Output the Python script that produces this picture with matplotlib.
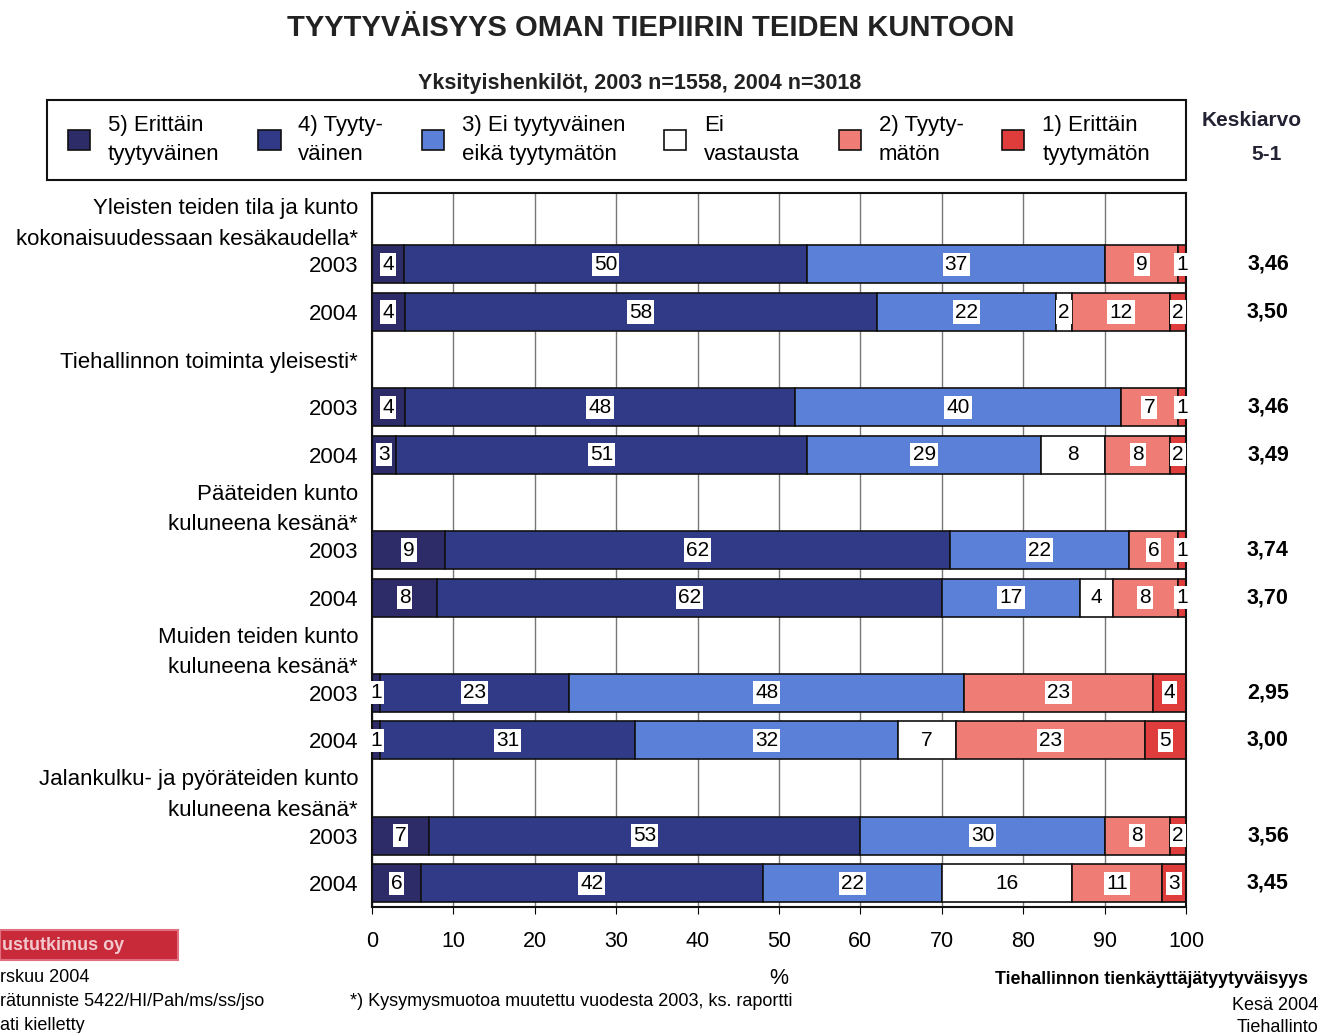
import numpy as np
import matplotlib.pyplot as plt
from matplotlib.patches import Patch, Rectangle
from matplotlib.transforms import blended_transform_factory

plt.rcParams['font.family'] = ['Liberation Sans', 'DejaVu Sans']

# Vastausluokat ja värit
categories = ["5) Erittäin\ntyytyväinen", "4) Tyyty-\nväinen", "3) Ei tyytyväinen\neikä tyytymätön",
              "Ei\nvastausta", "2) Tyyty-\nmätön", "1) Erittäin\ntyytymätön"]
colors = ["#2d2b68", "#303a86", "#5b80d8", "#ffffff", "#ef7d75", "#de3d3c"]

groups = ["Yleisten teiden tila ja kunto\nkokonaisuudessaan kesäkaudella*",
          "Tiehallinnon toiminta yleisesti*",
          "Pääteiden kunto\nkuluneena kesänä*",
          "Muiden teiden kunto\nkuluneena kesänä*",
          "Jalankulku- ja pyöräteiden kunto\nkuluneena kesänä*"]
years = ["2003", "2004"]

# Osuudet (%) per rivi: 5, 4, 3, ei vastausta, 2, 1
shares = np.array([
    [4, 50, 37, 0, 9, 1],
    [4, 58, 22, 2, 12, 2],
    [4, 48, 40, 0, 7, 1],
    [3, 51, 29, 8, 8, 2],
    [9, 62, 22, 0, 6, 1],
    [8, 62, 17, 4, 8, 1],
    [1, 23, 48, 0, 23, 4],
    [1, 31, 32, 7, 23, 5],
    [7, 53, 30, 0, 8, 2],
    [6, 42, 22, 16, 11, 3],
], dtype=float)
means = ["3,46", "3,50", "3,46", "3,49", "3,74", "3,70", "2,95", "3,00", "3,56", "3,45"]

W, H = 1323, 1033
fig = plt.figure(figsize=(W / 100, H / 100), dpi=100)
ax = fig.add_axes([372 / W, 1 - 907 / H, (1186 - 372) / W, (907 - 193) / H])

# Rivipaikat: ryhmän otsikko + 2003 + 2004
ylabels = []
bar_rows = []
for g, name in enumerate(groups):
    ylabels += [name] + years
    bar_rows += [3 * g + 1, 3 * g + 2]

# normalisoidaan rivit 100 %:iin (pyöristys)
norm = shares / shares.sum(axis=1, keepdims=True) * 100
left = np.zeros(len(bar_rows))
for k in range(len(categories)):
    w = norm[:, k]
    bars = ax.barh(bar_rows, w, left=left, height=0.8, color=colors[k],
                   edgecolor="#111111", linewidth=1.2, zorder=2)
    for b, v, val in zip(bars, w, shares[:, k]):
        if val > 0:
            ax.text(b.get_x() + v / 2, b.get_y() + b.get_height() / 2, f"{int(val)}",
                    ha="center", va="center", fontsize=15, zorder=3,
                    bbox=dict(facecolor="white", edgecolor="none", pad=1.5))
    left += w

for r, m in zip(bar_rows, means):
    ax.text(1.1007, r, m, transform=blended_transform_factory(ax.transAxes, ax.transData),
            ha="center", va="center", fontsize=15.5, fontweight="bold")

ax.set_xlim(0, 100)
ax.set_ylim(14.5, -0.5)
ax.set_xticks(np.arange(0, 101, 10))
ax.tick_params(axis="x", labelsize=15.5, length=5, pad=12)
ax.set_yticks(range(15))
ax.set_yticklabels(ylabels, fontsize=16, linespacing=1.6)
ax.tick_params(axis="y", length=0, pad=10)
ax.grid(axis="x", color="#777777", linewidth=1.0)
ax.set_axisbelow(True)
for s in ax.spines.values():
    s.set_color("#111111")
    s.set_linewidth(1.5)
ax.set_xlabel("%", fontsize=15.5, labelpad=12)

# Legenda
handles = [Patch(facecolor=c, edgecolor="#111111", linewidth=1.2) for c in colors]
leg = fig.legend(handles, categories, loc="center left", ncol=6, mode="expand",
                 bbox_to_anchor=(68 / W, 1 - 180 / H, (1150 - 68) / W, 80 / H),
                 fontsize=16, handlelength=1.0, handleheight=1.0, handletextpad=0.8,
                 frameon=False, borderpad=0, borderaxespad=0)
for t in leg.get_texts():
    t.set_linespacing(1.55)
fig.add_artist(Rectangle((47 / W, 1 - 180 / H), (1186 - 47) / W, 80 / H,
                         transform=fig.transFigure, facecolor="none",
                         edgecolor="#111111", linewidth=1.5))

fig.text(0.492, 1 - 28 / H, "TYYTYVÄISYYS OMAN TIEPIIRIN TEIDEN KUNTOON",
         ha="center", va="center", fontsize=21, fontweight="bold", color="#222222")
fig.text(640 / W, 1 - 84 / H, "Yksityishenkilöt, 2003 n=1558, 2004 n=3018",
         ha="center", va="center", fontsize=15.5, fontweight="bold", color="#222222")
fig.text(1252 / W, 1 - 121 / H, "Keskiarvo", ha="center", va="center",
         fontsize=15, fontweight="bold", color="#222233")
fig.text(1267 / W, 1 - 155 / H, "5-1", ha="center", va="center",
         fontsize=15, fontweight="bold", color="#222233")

# Alareunan tekstit
fig.add_artist(Rectangle((0, 1 - 960 / H), 178 / W, 30 / H, transform=fig.transFigure,
                         facecolor="#c92a3a", edgecolor="#e07080", linewidth=1.5))
fig.text(2 / W, 1 - 945 / H, "ustutkimus oy", ha="left", va="center",
         fontsize=13, fontweight="bold", color="#f2c8cc")
fig.text(0, 1 - 977 / H, "rskuu 2004", ha="left", va="center", fontsize=13)
fig.text(0, 1 - 1001 / H, "rätunniste 5422/HI/Pah/ms/ss/jso", ha="left", va="center", fontsize=13)
fig.text(0, 1 - 1025 / H, "ati kielletty", ha="left", va="center", fontsize=13)
fig.text(350 / W, 1 - 1001 / H, "*) Kysymysmuotoa muutettu vuodesta 2003, ks. raportti",
         ha="left", va="center", fontsize=13)
fig.text(1308 / W, 1 - 980 / H, "Tiehallinnon tienkäyttäjätyytyväisyys",
         ha="right", va="center", fontsize=12.8, fontweight="bold")
fig.text(1318 / W, 1 - 1005 / H, "Kesä 2004", ha="right", va="center", fontsize=13)
fig.text(1318 / W, 1 - 1027 / H, "Tiehallinto", ha="right", va="center", fontsize=13)

fig.savefig("out.png", dpi=100)
